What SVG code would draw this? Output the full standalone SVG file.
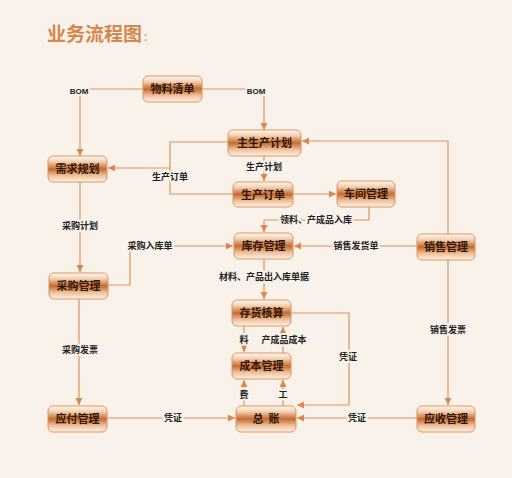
<svg xmlns="http://www.w3.org/2000/svg" width="512" height="478" viewBox="0 0 512 478">
<defs>
<linearGradient id="g" x1="0" y1="0" x2="0" y2="1">
<stop offset="0" stop-color="#fffaf5"/>
<stop offset="0.22" stop-color="#f3cfb0"/>
<stop offset="0.5" stop-color="#c46a30"/>
<stop offset="0.74" stop-color="#eebd97"/>
<stop offset="1" stop-color="#fff4ea"/>
</linearGradient>
<marker id="a" markerUnits="userSpaceOnUse" markerWidth="8" markerHeight="8" refX="7" refY="3.5" orient="auto">
<path d="M0,0 L7,3.5 L0,7 z" fill="#dc874b"/>
</marker>
<style>
.n rect{fill:url(#g);stroke:#dd9460;stroke-width:1}
.n text{font-family:"Noto Sans CJK SC","Noto Sans",sans-serif;font-size:11px;font-weight:bold;fill:#2e1606;text-anchor:middle}
.c path{fill:none;stroke:#e0935a;stroke-width:1.2}
.c path.ar{marker-end:url(#a)}
.l text{font-family:"Noto Sans CJK SC","Noto Sans",sans-serif;font-size:9px;font-weight:bold;fill:#222;text-anchor:middle;stroke:#f9f2eb;stroke-width:4;paint-order:stroke;stroke-linejoin:round}
.l text.en{font-family:"Liberation Sans",sans-serif;font-size:8px}
</style>
</defs>
<rect width="512" height="478" fill="#f9f2eb"/>
<text x="47" y="41" font-family="Noto Sans CJK SC,sans-serif" font-size="19" font-weight="bold" fill="#d4884e">业务流程图<tspan font-size="12" font-weight="normal" dx="2">:</tspan></text>
<g class="c" id="connectors">
<path class="ar" d="M143,89 H80 V156"/>
<path class="ar" d="M202,89 H264 V130"/>
<path class="ar" d="M228,142 H170 V168 H108"/>
<path d="M233,194 H170 V168"/>
<path class="ar" d="M264,156 V181"/>
<path class="ar" d="M293,194 H336"/>
<path class="ar" d="M369,207 V220 H264 V232"/>
<path class="ar" d="M417,246 H294"/>
<path class="ar" d="M448,234 V141 H302"/>
<path class="ar" d="M108,285 H130 V246 H233"/>
<path class="ar" d="M80,182 V272"/>
<path class="ar" d="M79,299 V405"/>
<path class="ar" d="M107,418 H235"/>
<path class="ar" d="M264,259 V299"/>
<path class="ar" d="M244,326 V352"/>
<path class="ar" d="M283,353 V327"/>
<path class="ar" d="M244,406 V380"/>
<path class="ar" d="M283,406 V380"/>
<path class="ar" d="M291,313 H349 V405 H297"/>
<path class="ar" d="M448,260 V405"/>
<path class="ar" d="M417,418 H297"/>
</g>
<g class="l" id="labels">
<text class="en" x="79" y="94">BOM</text>
<text class="en" x="256" y="94">BOM</text>
<text x="170" y="180">生产订单</text>
<text x="264" y="170">生产计划</text>
<text x="316" y="223">领料、产成品入库</text>
<text x="356" y="249">销售发货单</text>
<text x="150" y="249">采购入库单</text>
<text x="80" y="229">采购计划</text>
<text x="80" y="353">采购发票</text>
<text x="173" y="421">凭证</text>
<text x="264" y="280">材料、产品出入库单据</text>
<text x="244" y="343">料</text>
<text x="284" y="343">产成品成本</text>
<text x="244" y="398">费</text>
<text x="283" y="398">工</text>
<text x="348" y="360">凭证</text>
<text x="448" y="333">销售发票</text>
<text x="357" y="421">凭证</text>
</g>
<g class="n" id="n-mat"><rect x="143" y="76" width="59" height="26" rx="5"/><text x="172.5" y="93">物料清单</text></g>
<g class="n" id="n-mps"><rect x="228" y="130" width="73" height="26" rx="5"/><text x="264.5" y="147">主生产计划</text></g>
<g class="n" id="n-dem"><rect x="48" y="156" width="59" height="26" rx="5"/><text x="77.5" y="173">需求规划</text></g>
<g class="n" id="n-po"><rect x="233" y="182" width="60" height="25" rx="5"/><text x="263" y="198.5">生产订单</text></g>
<g class="n" id="n-ws"><rect x="337" y="181" width="58" height="26" rx="5"/><text x="366" y="198">车间管理</text></g>
<g class="n" id="n-inv"><rect x="234" y="233" width="59" height="26" rx="5"/><text x="263.5" y="250">库存管理</text></g>
<g class="n" id="n-sal"><rect x="417" y="234" width="58" height="26" rx="5"/><text x="446" y="251">销售管理</text></g>
<g class="n" id="n-pur"><rect x="49" y="273" width="59" height="26" rx="5"/><text x="78.5" y="290">采购管理</text></g>
<g class="n" id="n-ia"><rect x="232" y="300" width="59" height="26" rx="5"/><text x="261.5" y="317">存货核算</text></g>
<g class="n" id="n-cost"><rect x="232" y="353" width="59" height="26" rx="5"/><text x="261.5" y="370">成本管理</text></g>
<g class="n" id="n-gl"><rect x="236" y="406" width="60" height="26" rx="5"/><text x="266" y="423" xml:space="preserve">总  账</text></g>
<g class="n" id="n-ar"><rect x="417" y="406" width="58" height="26" rx="5"/><text x="446" y="423">应收管理</text></g>
<g class="n" id="n-ap"><rect x="48" y="406" width="59" height="26" rx="5"/><text x="77.5" y="423">应付管理</text></g>
</svg>
